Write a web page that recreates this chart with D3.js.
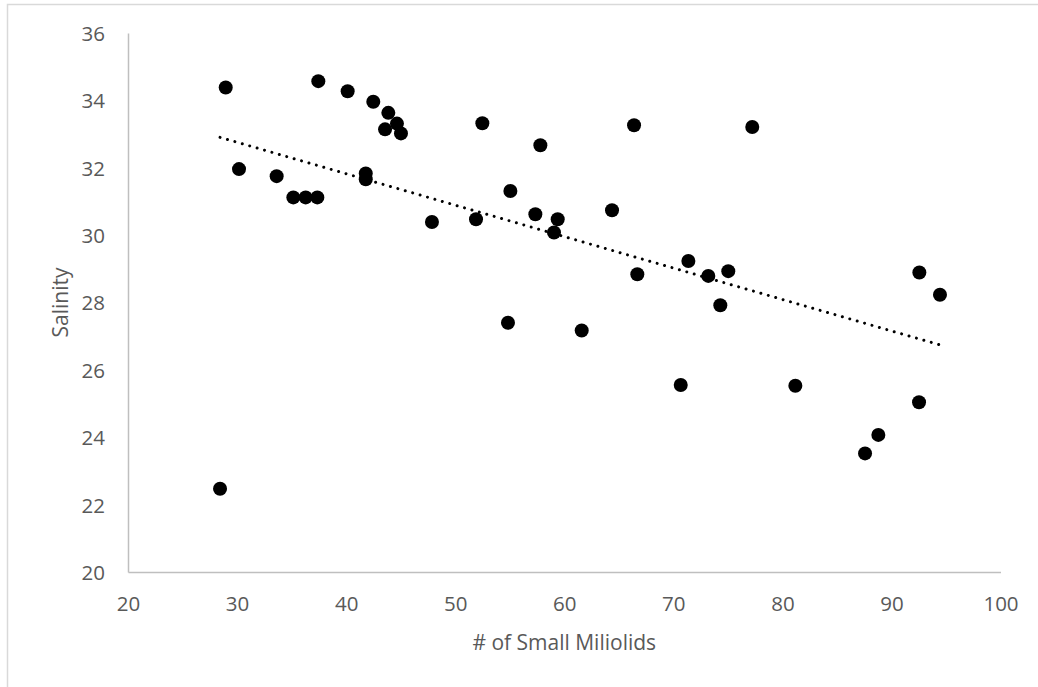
<!DOCTYPE html>
<html>
<head>
<meta charset="utf-8">
<script src="https://cdn.jsdelivr.net/npm/d3@7"></script>
<style>
  html, body { margin: 0; padding: 0; background: #ffffff; }
  svg { display: block; }
  text { font-family: "Open Sans", "Noto Sans", sans-serif; fill: #595959; }
</style>
</head>
<body>
<svg id="chart" width="1038" height="687"></svg>
<script>
// Count of small miliolids per sample
const miliolids = [28.44, 28.96, 30.18, 33.63, 35.16, 36.29, 37.36, 37.45, 40.14, 41.80, 41.80,
  42.49, 43.87, 44.66, 43.57, 45.03, 47.87, 51.91, 52.49, 57.81, 55.06, 57.35, 59.40, 59.06,
  64.38, 66.40, 77.24, 66.70, 71.38, 73.21, 75.04, 74.31, 54.84, 61.60, 70.68, 81.19, 92.53,
  88.80, 87.58, 92.56, 94.45];
// Salinity measured at each sample
const salinity = [22.47, 34.38, 31.96, 31.75, 31.12, 31.12, 31.12, 34.57, 34.27, 31.83, 31.66,
  33.96, 33.63, 33.31, 33.14, 33.02, 30.39, 30.47, 33.32, 32.67, 31.31, 30.62, 30.47, 30.08,
  30.74, 33.26, 33.21, 28.84, 29.23, 28.79, 28.93, 27.92, 27.40, 27.17, 25.55, 25.53, 25.04,
  24.07, 23.52, 28.89, 28.23];

const xTicks = [20, 30, 40, 50, 60, 70, 80, 90, 100];
const yTicks = [20, 22, 24, 26, 28, 30, 32, 34, 36];
const xTitle = "# of Small Miliolids";
const yTitle = "Salinity";

const svg = d3.select("#chart");
const W = 1038, H = 687;
const plot = { left: 128, right: 1000.5, top: 33, bottom: 572 };

svg.append("rect").attr("width", W).attr("height", H).attr("fill", "#fff");
// chart area border
svg.append("rect")
  .attr("x", 7.5).attr("y", 4.5)
  .attr("width", W).attr("height", H)
  .attr("fill", "none").attr("stroke", "#d9d9d9").attr("stroke-width", 1.5);

const x = d3.scaleLinear().domain([20, 100]).range([plot.left, plot.right]);
const y = d3.scaleLinear().domain([20, 36]).range([plot.bottom, plot.top]);

// axes
const xAxis = svg.append("g")
  .attr("transform", `translate(0,${plot.bottom})`)
  .call(d3.axisBottom(x).tickValues(xTicks).tickSize(0).tickPadding(39));
const yAxis = svg.append("g")
  .attr("transform", `translate(${plot.left},0)`)
  .call(d3.axisLeft(y).tickValues(yTicks).tickSize(0).tickPadding(23));

[xAxis, yAxis].forEach(g => {
  g.select(".domain").attr("stroke", "#bfbfbf").attr("stroke-width", 1.5);
  g.selectAll("text")
    .attr("font-family", "'Open Sans', 'Noto Sans', sans-serif")
    .attr("font-size", 20.5)
    .attr("fill", "#595959");
});
xAxis.selectAll("text").attr("dy", "0");
yAxis.selectAll("text").attr("dy", "0.36em");

// axis titles
svg.append("text")
  .attr("x", (plot.left + plot.right) / 2).attr("y", 650)
  .attr("text-anchor", "middle")
  .attr("font-size", 21)
  .text(xTitle);
svg.append("text")
  .attr("transform", `translate(68,${(plot.top + plot.bottom) / 2}) rotate(-90)`)
  .attr("text-anchor", "middle")
  .attr("font-size", 21)
  .text(yTitle);

// scatter points
const pts = miliolids.map((v, i) => ({ x: v, y: salinity[i] }));
svg.append("g").selectAll("circle")
  .data(pts).join("circle")
  .attr("cx", d => x(d.x)).attr("cy", d => y(d.y))
  .attr("r", 7).attr("fill", "#000");

// linear least-squares trendline over the data range
const n = pts.length;
const mx = d3.mean(pts, d => d.x), my = d3.mean(pts, d => d.y);
const sxy = d3.sum(pts, d => (d.x - mx) * (d.y - my));
const sxx = d3.sum(pts, d => (d.x - mx) ** 2);
const slope = sxy / sxx, intercept = my - slope * mx;
const [x0, x1] = d3.extent(pts, d => d.x);
svg.append("line")
  .attr("x1", x(x0)).attr("y1", y(intercept + slope * x0))
  .attr("x2", x(x1)).attr("y2", y(intercept + slope * x1))
  .attr("stroke", "#000").attr("stroke-width", 3)
  .attr("stroke-linecap", "round")
  .attr("stroke-dasharray", "0.01 7.7");
</script>
</body>
</html>
